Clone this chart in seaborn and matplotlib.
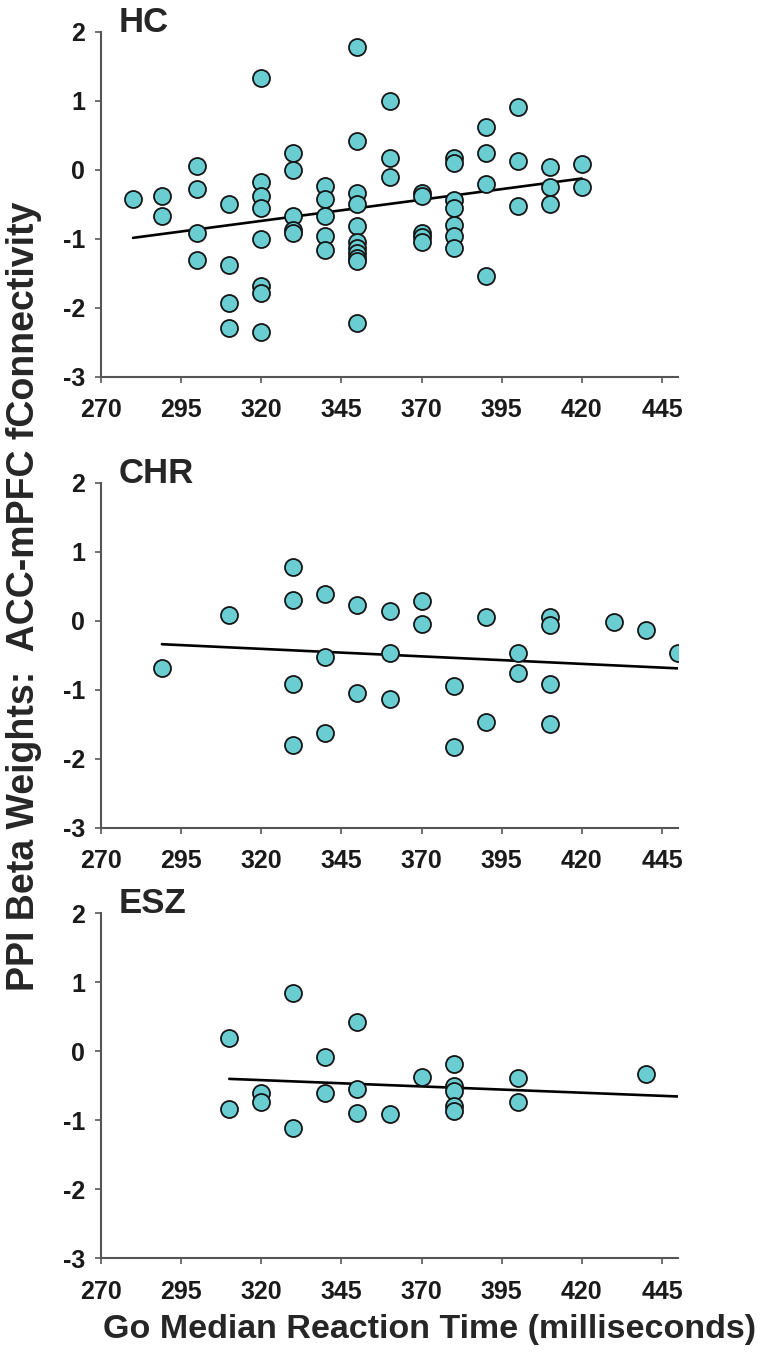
import numpy as np
import pandas as pd
import seaborn as sns
import matplotlib.pyplot as plt
import matplotlib.patheffects as pe

# Go median RT (ms) vs PPI beta weights, one panel per group
hc_rt = [280, 289, 289, 300, 300, 300, 300, 310, 310, 310, 310,
         320, 320, 320, 320, 320, 320, 320, 320,
         330, 330, 330, 330, 330,
         340, 340, 340, 340, 340,
         350, 350, 350, 350, 350, 350, 350, 350, 350, 350, 350,
         360, 360, 360,
         370, 370, 370, 370, 370,
         380, 380, 380, 380, 380, 380, 380,
         390, 390, 390, 390,
         400, 400, 400,
         410, 410, 410,
         420, 420]
hc_ppi = [-0.42, -0.39, -0.67, 0.05, -0.28, -0.92, -1.31, -0.50, -1.39, -1.94, -2.30,
          1.32, -0.18, -0.39, -0.56, -1.00, -1.69, -1.79, -2.36,
          0.24, -0.01, -0.68, -0.88, -0.92,
          -0.24, -0.42, -0.67, -0.97, -1.17,
          1.77, 0.41, -0.34, -0.50, -0.82, -1.05, -1.14, -1.21, -1.28, -1.33, -2.22,
          1.00, 0.16, -0.11,
          -0.34, -0.38, -0.92, -0.98, -1.05,
          0.16, 0.10, -0.44, -0.56, -0.81, -0.97, -1.14,
          0.61, 0.24, -0.21, -1.55,
          0.91, 0.13, -0.53,
          0.03, -0.26, -0.50,
          0.08, -0.26]

chr_rt = [289, 310, 330, 330, 330, 330, 340, 340, 340, 350, 350,
          360, 360, 360, 370, 370, 380, 380, 390, 390, 400, 400,
          410, 410, 410, 410, 430, 440, 450]
chr_ppi = [-0.69, 0.08, 0.78, 0.30, -0.92, -1.80, 0.39, -0.53, -1.63, 0.23, -1.05,
           0.14, -0.47, -1.13, 0.28, -0.05, -0.94, -1.83, 0.06, -1.47, -0.47, -0.75,
           0.05, -0.06, -0.92, -1.50, -0.02, -0.13, -0.47]

esz_rt = [310, 310, 320, 320, 330, 330, 340, 340, 350, 350, 350,
          360, 370, 380, 380, 380, 380, 380, 400, 400, 440]
esz_ppi = [0.19, -0.84, -0.61, -0.74, 0.84, -1.11, -0.08, -0.61, 0.42, -0.55, -0.89,
           -0.91, -0.37, -0.19, -0.50, -0.58, -0.80, -0.86, -0.39, -0.74, -0.33]

# linear trend lines as printed in the figure (end points)
trend_rt = {'HC': [280, 420], 'CHR': [289, 450], 'ESZ': [310, 450]}
trend_ppi = {'HC': [-0.99, -0.13], 'CHR': [-0.34, -0.69], 'ESZ': [-0.40, -0.655]}

groups = ['HC', 'CHR', 'ESZ']
xticks = [270, 295, 320, 345, 370, 395, 420, 445]
yticks = [-3, -2, -1, 0, 1, 2]

df = pd.concat([
    pd.DataFrame({'rt': hc_rt, 'ppi': hc_ppi, 'group': 'HC'}),
    pd.DataFrame({'rt': chr_rt, 'ppi': chr_ppi, 'group': 'CHR'}),
    pd.DataFrame({'rt': esz_rt, 'ppi': esz_ppi, 'group': 'ESZ'}),
])

sns.set_style('ticks')
plt.rcParams['font.family'] = ['Liberation Sans', 'DejaVu Sans']
plt.rcParams['font.weight'] = 'bold'
plt.rcParams['axes.unicode_minus'] = False

fig = plt.figure(figsize=(7.63, 13.53), dpi=100)
left, width, height = 0.1324, 0.7562, 0.2550
bottoms = [0.7217, 0.3882, 0.0700]

for g, b in zip(groups, bottoms):
    ax = fig.add_axes([left, b, width, height])
    d = df[df['group'] == g]
    sns.lineplot(x=trend_rt[g], y=trend_ppi[g], ax=ax, color='black', lw=1.9, zorder=2)
    sns.scatterplot(data=d, x='rt', y='ppi', ax=ax, s=150, color='#6ACDD2',
                    edgecolor='#151515', linewidth=1.3, alpha=1, zorder=3)
    ax.collections[0].set_path_effects([
        pe.SimplePatchShadow(offset=(0.8, -1.2), shadow_rgbFace='#777777', alpha=0.35),
        pe.Normal()])
    ax.set_xlim(270, 450)
    ax.set_ylim(-3, 2)
    ax.set_xticks(xticks)
    ax.set_yticks(yticks)
    ax.set_xlabel('')
    ax.set_ylabel('')
    sns.despine(ax=ax)
    for s in ['left', 'bottom']:
        ax.spines[s].set_color('#555555')
        ax.spines[s].set_linewidth(1.5)
    ax.tick_params(axis='both', direction='out', length=4.5, width=1.3,
                   color='#666666', labelsize=18, labelcolor='#1a1a1a')
    ax.tick_params(axis='x', pad=11)
    ax.tick_params(axis='y', pad=7)
    for lab in ax.get_xticklabels() + ax.get_yticklabels():
        lab.set_fontweight('bold')
    ax.text(0.03, 1.0, g, transform=ax.transAxes, fontsize=25,
            fontweight='bold', va='baseline', ha='left')

fig.text(0.563, 0.017, 'Go Median Reaction Time (milliseconds)',
         ha='center', va='center', fontsize=24.5, fontweight='bold')
fig.text(0.032, 0.5595, 'PPI Beta Weights:  ACC-mPFC fConnectivity',
         ha='center', va='center', rotation=90, fontsize=27, fontweight='bold')

fig.savefig('out.png', dpi=100, facecolor='white')
